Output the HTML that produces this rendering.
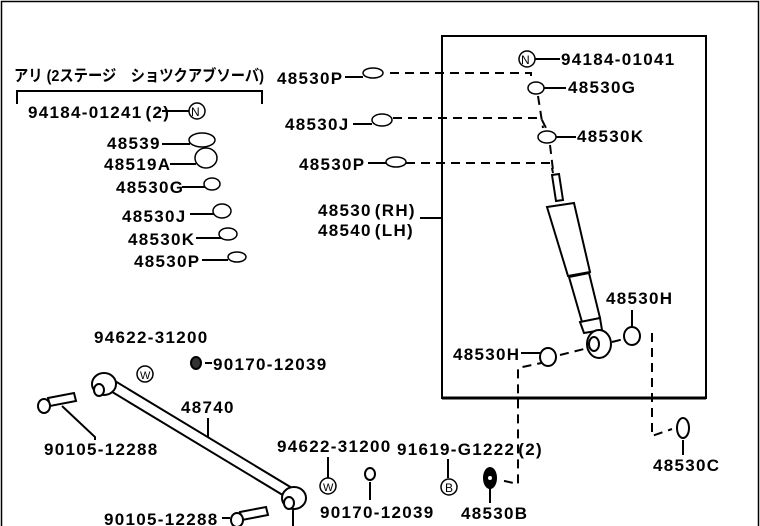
<!DOCTYPE html>
<html><head><meta charset="utf-8"><style>
html,body{margin:0;padding:0;background:#fff;width:760px;height:526px;overflow:hidden}
svg{display:block}
text{font-family:"Liberation Sans","Noto Sans CJK JP",sans-serif;font-size:17px;font-weight:bold;fill:#000;letter-spacing:1.3px;word-spacing:-3px}
</style></head><body>
<svg width="760" height="526" viewBox="0 0 760 526" xmlns="http://www.w3.org/2000/svg" stroke="#000" fill="none" stroke-width="1.5">
<path d="M1.5 526 V1.5 H758.5 V526" stroke-width="1.5"/>
<path d="M442 36 H706 V398 H442 Z" stroke-width="2"/>
<path d="M442 398 H706" stroke-width="3"/>

<g stroke="none">
<text x="14" y="81" style="font-size:16px;letter-spacing:0;word-spacing:0" textLength="250" lengthAdjust="spacingAndGlyphs">アリ (2ステージ　ショツクアブソーバ)</text>
<text x="28" y="118">94184-01241 (2)</text>
<text x="107" y="149">48539</text>
<text x="104" y="170">48519A</text>
<text x="116" y="193">48530G</text>
<text x="122" y="222">48530J</text>
<text x="128" y="245">48530K</text>
<text x="134" y="267">48530P</text>

<text x="277" y="84">48530P</text>
<text x="561" y="65">94184-01041</text>
<text x="568" y="93">48530G</text>
<text x="285" y="130">48530J</text>
<text x="577" y="142">48530K</text>
<text x="299" y="170">48530P</text>
<text x="318" y="216">48530 (RH)</text>
<text x="318" y="236">48540 (LH)</text>
<text x="606" y="304">48530H</text>
<text x="453" y="360">48530H</text>
<text x="653" y="471">48530C</text>
<text x="461" y="519">48530B</text>
<text x="397" y="455">91619-G1222 (2)</text>
<text x="277" y="452">94622-31200</text>
<text x="320" y="518">90170-12039</text>
<text x="181" y="413">48740</text>
<text x="44" y="455">90105-12288</text>
<text x="94" y="343">94622-31200</text>
<text x="213" y="370">90170-12039</text>
<text x="104" y="525">90105-12288</text>
<text x="521" y="64" style="font-size:12px;letter-spacing:0;font-weight:normal">N</text>
<text x="191" y="116" style="font-size:12px;letter-spacing:0;font-weight:normal">N</text>
<text x="140" y="379" style="font-size:11px;letter-spacing:0;font-weight:normal">W</text>
<text x="323" y="491" style="font-size:11px;letter-spacing:0;font-weight:normal">W</text>
<text x="445" y="492" style="font-size:12px;letter-spacing:0;font-weight:normal">B</text>
</g>

<path d="M17 104 V91 H262 V104" stroke-width="2"/>
<circle cx="197" cy="111" r="8"/>
<circle cx="527" cy="59" r="8"/>
<circle cx="145" cy="374" r="8"/>
<circle cx="328" cy="486" r="8"/>
<circle cx="449" cy="487" r="8"/>
<path d="M162 111 H189 M162 144 H190 M170 164 H196 M182 187 H205 M190 214 H215 M196 238 H222 M202 260 H228" stroke-width="2"/>
<g fill="#fff">
<ellipse cx="202" cy="140" rx="13" ry="7"/><ellipse cx="206" cy="158" rx="11" ry="10"/>
<ellipse cx="212" cy="184" rx="8" ry="6"/><ellipse cx="222" cy="211" rx="9" ry="7"/>
<ellipse cx="228" cy="234" rx="9" ry="6"/><ellipse cx="237" cy="257" rx="9" ry="5"/>
<ellipse cx="373" cy="73" rx="10" ry="5"/><ellipse cx="382" cy="120" rx="10" ry="6"/>
<ellipse cx="396" cy="162" rx="10" ry="5"/><ellipse cx="536" cy="88" rx="8" ry="6"/>
<ellipse cx="547" cy="137" rx="9" ry="6"/>
</g>
<path d="M345 77 H363 M535 59 H560 M544 88 H566 M353 124 H372 M556 137 H576 M368 163 H386 M420 218 H442 M632 310 V327 M521 353 H540 M683 440 V455 M490 486 V503 M448 478 V459 M328 478 V457 M370 482 V500 M208 448 V418 M62 406 L95 437 V440 M205 363 H212" stroke-width="2"/>
<g stroke-dasharray="9,6" stroke-width="2">
<path d="M390 73 H531 V80"/>
<path d="M393 118 H541 L546 128"/>
<path d="M406 163 H551 L553 173"/>
<path d="M538 96 L543 128 M550 145 L553 170"/>
<path d="M560 355 L588 348 M612 342 L624 339"/>
<path d="M652 333 V436 L672 429"/>
<path d="M546 362 L518 368 V484 L500 480"/>
</g>
<g fill="#fff" stroke-width="2">
<path d="M552 175 L559 174 L563 200 L556 201 Z"/>
<path d="M547 207 L574 203 L590 272 L568 276 Z"/>
<path d="M569 277 L589 273 L600 318 L582 322 Z"/>
<path d="M580 322 L600 318 L602 330 L584 333 Z"/>
<ellipse cx="599" cy="344" rx="12" ry="14"/>
<ellipse cx="594" cy="344" rx="5" ry="7"/>
<ellipse cx="632" cy="336" rx="8" ry="9"/>
<ellipse cx="548" cy="357" rx="8" ry="9"/>
<ellipse cx="683" cy="428" rx="6" ry="10"/>
<ellipse cx="490" cy="478" rx="6" ry="10" fill="#000"/>
<circle cx="490" cy="478" r="3" fill="#fff"/>
<ellipse cx="370" cy="474" rx="5" ry="6"/>
<ellipse cx="196" cy="363" rx="5" ry="6" fill="#333"/>
</g>
<g stroke-width="2" fill="#fff">
<path d="M110 378 L292 488 L286 497 L104 387 Z"/>
<ellipse cx="104" cy="384" rx="12" ry="11"/>
<ellipse cx="99" cy="390" rx="5" ry="6"/>
<ellipse cx="294" cy="498" rx="12" ry="11"/>
<ellipse cx="289" cy="503" rx="5" ry="6"/>
<path d="M48 398 L74 393 L76 401 L50 406 Z"/>
<ellipse cx="44" cy="406" rx="6" ry="7"/>
<path d="M240 512 L266 507 L268 515 L242 520 Z"/>
<ellipse cx="237" cy="520" rx="6" ry="7"/>
</g>
<path d="M222 518 H230 M293 510 V526" stroke-width="2"/>
</svg>
</body></html>
